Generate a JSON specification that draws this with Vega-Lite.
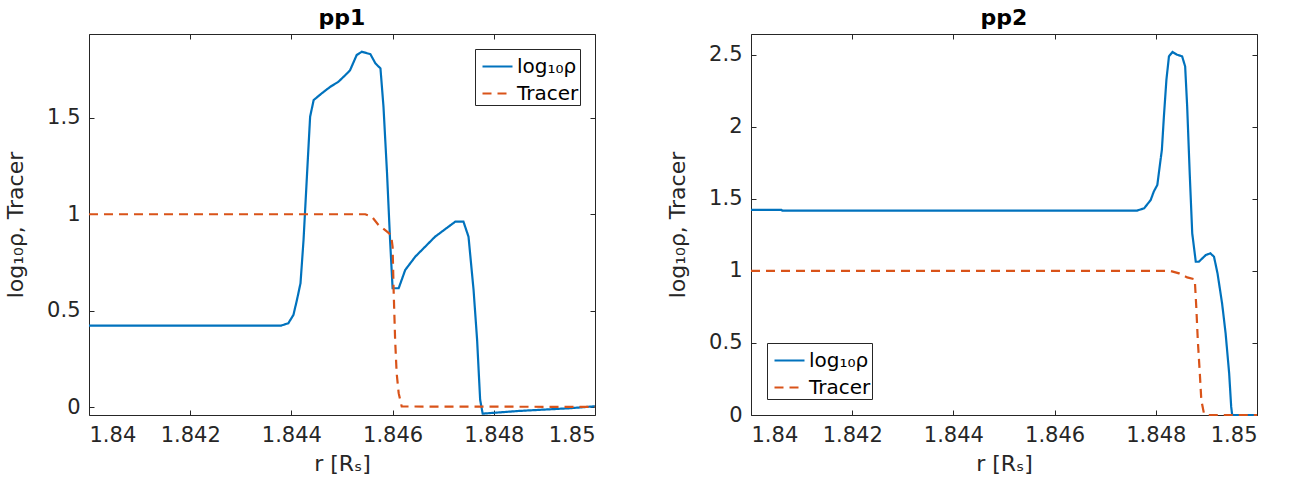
{
  "$schema": "https://vega.github.io/schema/vega-lite/v6.json",
  "autosize": {"type": "pad"},
  "padding": {"left": 4, "top": 6, "right": 5, "bottom": 5},
  "background": "white",
  "config": {
    "font": "DejaVu Sans",
    "view": {"stroke": "#262626", "strokeWidth": 1},
    "axis": {
      "domain": false, "grid": false, "tickColor": "#262626", "tickSize": -5,
      "labelFont": "DejaVu Sans", "labelFontSize": 21, "labelColor": "#262626", "labelPadding": 14,
      "titleFont": "DejaVu Sans", "titleFontSize": 22, "titleFontWeight": "normal", "titleColor": "#262626"
    },
    "axisX": {"titlePadding": 8},
    "axisY": {"titlePadding": 19},
    "legend": {
      "labelFont": "DejaVu Sans", "labelFontSize": 20, "labelColor": "#000000",
      "symbolType": "stroke", "symbolSize": 900, "symbolStrokeWidth": 2.2,
      "strokeColor": "#262626", "fillColor": "white", "padding": 1, "rowPadding": 0,
      "labelOffset": 3, "symbolOffset": 5
    },
    "title": {"font": "DejaVu Sans", "fontSize": 22, "fontWeight": "bold", "color": "#000000", "offset": 4},
    "line": {"strokeWidth": 2.2}
  },
  "datasets": {
    "pp1": [
      {"series": "log₁₀ρ", "r": 1.84, "v": 0.424},
      {"series": "log₁₀ρ", "r": 1.8438, "v": 0.424},
      {"series": "log₁₀ρ", "r": 1.84394, "v": 0.436},
      {"series": "log₁₀ρ", "r": 1.84404, "v": 0.479},
      {"series": "log₁₀ρ", "r": 1.84411, "v": 0.557},
      {"series": "log₁₀ρ", "r": 1.84418, "v": 0.643},
      {"series": "log₁₀ρ", "r": 1.84424, "v": 0.867},
      {"series": "log₁₀ρ", "r": 1.84431, "v": 1.212},
      {"series": "log₁₀ρ", "r": 1.84437, "v": 1.505},
      {"series": "log₁₀ρ", "r": 1.84444, "v": 1.591},
      {"series": "log₁₀ρ", "r": 1.8446, "v": 1.626},
      {"series": "log₁₀ρ", "r": 1.84477, "v": 1.66},
      {"series": "log₁₀ρ", "r": 1.84493, "v": 1.686},
      {"series": "log₁₀ρ", "r": 1.8451, "v": 1.729},
      {"series": "log₁₀ρ", "r": 1.84516, "v": 1.746},
      {"series": "log₁₀ρ", "r": 1.84529, "v": 1.824},
      {"series": "log₁₀ρ", "r": 1.84539, "v": 1.841},
      {"series": "log₁₀ρ", "r": 1.84556, "v": 1.829},
      {"series": "log₁₀ρ", "r": 1.84566, "v": 1.781},
      {"series": "log₁₀ρ", "r": 1.84576, "v": 1.755},
      {"series": "log₁₀ρ", "r": 1.84582, "v": 1.556},
      {"series": "log₁₀ρ", "r": 1.84589, "v": 1.212},
      {"series": "log₁₀ρ", "r": 1.84595, "v": 0.867},
      {"series": "log₁₀ρ", "r": 1.846, "v": 0.617},
      {"series": "log₁₀ρ", "r": 1.84612, "v": 0.617},
      {"series": "log₁₀ρ", "r": 1.84625, "v": 0.712},
      {"series": "log₁₀ρ", "r": 1.84645, "v": 0.781},
      {"series": "log₁₀ρ", "r": 1.84684, "v": 0.884},
      {"series": "log₁₀ρ", "r": 1.84724, "v": 0.962},
      {"series": "log₁₀ρ", "r": 1.8474, "v": 0.962},
      {"series": "log₁₀ρ", "r": 1.8475, "v": 0.884},
      {"series": "log₁₀ρ", "r": 1.8476, "v": 0.609},
      {"series": "log₁₀ρ", "r": 1.84767, "v": 0.35},
      {"series": "log₁₀ρ", "r": 1.84773, "v": 0.04},
      {"series": "log₁₀ρ", "r": 1.84778, "v": -0.032},
      {"series": "log₁₀ρ", "r": 1.8485, "v": -0.018},
      {"series": "log₁₀ρ", "r": 1.8495, "v": -0.004},
      {"series": "log₁₀ρ", "r": 1.85, "v": 0.006},
      {"series": "Tracer", "r": 1.84, "v": 1},
      {"series": "Tracer", "r": 1.84546, "v": 1},
      {"series": "Tracer", "r": 1.84559, "v": 0.988},
      {"series": "Tracer", "r": 1.84572, "v": 0.945},
      {"series": "Tracer", "r": 1.84589, "v": 0.91},
      {"series": "Tracer", "r": 1.84597, "v": 0.893},
      {"series": "Tracer", "r": 1.846, "v": 0.832},
      {"series": "Tracer", "r": 1.84602, "v": 0.609},
      {"series": "Tracer", "r": 1.84605, "v": 0.35},
      {"series": "Tracer", "r": 1.84608, "v": 0.178},
      {"series": "Tracer", "r": 1.84612, "v": 0.074},
      {"series": "Tracer", "r": 1.84618, "v": 0.005},
      {"series": "Tracer", "r": 1.85, "v": 0.003}
    ],
    "pp2": [
      {"series": "log₁₀ρ", "r": 1.84, "v": 1.424},
      {"series": "log₁₀ρ", "r": 1.8406, "v": 1.424},
      {"series": "log₁₀ρ", "r": 1.84062, "v": 1.419},
      {"series": "log₁₀ρ", "r": 1.84763, "v": 1.419},
      {"series": "log₁₀ρ", "r": 1.84777, "v": 1.435},
      {"series": "log₁₀ρ", "r": 1.8479, "v": 1.493},
      {"series": "log₁₀ρ", "r": 1.84796, "v": 1.551},
      {"series": "log₁₀ρ", "r": 1.84803, "v": 1.597},
      {"series": "log₁₀ρ", "r": 1.84806, "v": 1.679},
      {"series": "log₁₀ρ", "r": 1.84812, "v": 1.841},
      {"series": "log₁₀ρ", "r": 1.84816, "v": 2.072},
      {"series": "log₁₀ρ", "r": 1.84821, "v": 2.328},
      {"series": "log₁₀ρ", "r": 1.84826, "v": 2.49},
      {"series": "log₁₀ρ", "r": 1.84833, "v": 2.52},
      {"series": "log₁₀ρ", "r": 1.84842, "v": 2.501},
      {"series": "log₁₀ρ", "r": 1.84852, "v": 2.49},
      {"series": "log₁₀ρ", "r": 1.84858, "v": 2.42},
      {"series": "log₁₀ρ", "r": 1.84862, "v": 2.142},
      {"series": "log₁₀ρ", "r": 1.84867, "v": 1.679},
      {"series": "log₁₀ρ", "r": 1.84872, "v": 1.261},
      {"series": "log₁₀ρ", "r": 1.84879, "v": 1.064},
      {"series": "log₁₀ρ", "r": 1.84885, "v": 1.064},
      {"series": "log₁₀ρ", "r": 1.84899, "v": 1.111},
      {"series": "log₁₀ρ", "r": 1.84908, "v": 1.122},
      {"series": "log₁₀ρ", "r": 1.84915, "v": 1.099},
      {"series": "log₁₀ρ", "r": 1.84922, "v": 0.983},
      {"series": "log₁₀ρ", "r": 1.84931, "v": 0.775},
      {"series": "log₁₀ρ", "r": 1.84938, "v": 0.566},
      {"series": "log₁₀ρ", "r": 1.84945, "v": 0.288},
      {"series": "log₁₀ρ", "r": 1.84949, "v": 0.056},
      {"series": "log₁₀ρ", "r": 1.84951, "v": 0},
      {"series": "log₁₀ρ", "r": 1.85, "v": 0},
      {"series": "Tracer", "r": 1.84, "v": 1},
      {"series": "Tracer", "r": 1.84829, "v": 1},
      {"series": "Tracer", "r": 1.84846, "v": 0.983},
      {"series": "Tracer", "r": 1.84862, "v": 0.955},
      {"series": "Tracer", "r": 1.84877, "v": 0.942},
      {"series": "Tracer", "r": 1.8488, "v": 0.751},
      {"series": "Tracer", "r": 1.84883, "v": 0.519},
      {"series": "Tracer", "r": 1.84887, "v": 0.288},
      {"series": "Tracer", "r": 1.8489, "v": 0.102},
      {"series": "Tracer", "r": 1.84895, "v": 0.014},
      {"series": "Tracer", "r": 1.849, "v": 0},
      {"series": "Tracer", "r": 1.85, "v": 0}
    ]
  },
  "spacing": 156,
  "bounds": "flush",
  "resolve": {
    "scale": {"x": "independent", "y": "independent", "color": "independent", "strokeDash": "independent"},
    "legend": {"color": "independent", "strokeDash": "independent"}
  },
  "hconcat": [
    {
      "title": "pp1",
      "width": 506,
      "height": 381,
      "data": {"name": "pp1"},
      "resolve": {"axis": {"x": "independent", "y": "independent"}},
      "layer": [
        {
          "transform": [{"filter": "datum.series !== 'Tracer'"}],
          "mark": {"type": "line", "strokeWidth": 2.2},
          "encoding": {
            "x": {"field": "r", "type": "quantitative", "scale": {"domain": [1.84, 1.85], "nice": false, "zero": false},
                  "axis": {"orient": "bottom", "title": "r [Rₛ]", "values": [1.84, 1.842, 1.844, 1.846, 1.848, 1.85], "format": "~g"}},
            "y": {"field": "v", "type": "quantitative", "scale": {"domain": [-0.039, 1.933], "nice": false, "zero": false},
                  "axis": {"orient": "left", "title": "log₁₀ρ, Tracer", "values": [0, 0.5, 1, 1.5], "format": "~g"}},
            "color": {"field": "series", "type": "nominal", "scale": {"domain": ["log₁₀ρ", "Tracer"], "range": ["#0072BD", "#D95319"]},
                      "legend": {"title": null, "orient": "top-right", "offset": 15}},
            "strokeDash": {"field": "series", "type": "nominal", "scale": {"domain": ["log₁₀ρ", "Tracer"], "range": [[1, 0], [9, 6]]},
                      "legend": {"title": null, "orient": "top-right", "offset": 15}}
          }
        },
        {
          "transform": [{"filter": "datum.series === 'Tracer'"}],
          "mark": {"type": "line", "strokeWidth": 2.2},
          "encoding": {
            "x": {"field": "r", "type": "quantitative", "axis": {"orient": "top", "title": null, "labels": false, "values": [1.84, 1.842, 1.844, 1.846, 1.848, 1.85]}},
            "y": {"field": "v", "type": "quantitative", "axis": {"orient": "right", "title": null, "labels": false, "values": [0, 0.5, 1, 1.5]}},
            "color": {"field": "series", "type": "nominal"},
            "strokeDash": {"field": "series", "type": "nominal"}
          }
        }
      ]
    },
    {
      "title": "pp2",
      "width": 506,
      "height": 381,
      "data": {"name": "pp2"},
      "resolve": {"axis": {"x": "independent", "y": "independent"}},
      "layer": [
        {
          "transform": [{"filter": "datum.series !== 'Tracer'"}],
          "mark": {"type": "line", "strokeWidth": 2.2},
          "encoding": {
            "x": {"field": "r", "type": "quantitative", "scale": {"domain": [1.84, 1.85], "nice": false, "zero": false},
                  "axis": {"orient": "bottom", "title": "r [Rₛ]", "values": [1.84, 1.842, 1.844, 1.846, 1.848, 1.85], "format": "~g"}},
            "y": {"field": "v", "type": "quantitative", "scale": {"domain": [0, 2.645], "nice": false, "zero": false},
                  "axis": {"orient": "left", "title": "log₁₀ρ, Tracer", "values": [0, 0.5, 1, 1.5, 2, 2.5], "format": "~g"}},
            "color": {"field": "series", "type": "nominal", "scale": {"domain": ["log₁₀ρ", "Tracer"], "range": ["#0072BD", "#D95319"]},
                      "legend": {"title": null, "orient": "bottom-left", "offset": 16}},
            "strokeDash": {"field": "series", "type": "nominal", "scale": {"domain": ["log₁₀ρ", "Tracer"], "range": [[1, 0], [9, 6]]},
                      "legend": {"title": null, "orient": "bottom-left", "offset": 16}}
          }
        },
        {
          "transform": [{"filter": "datum.series === 'Tracer'"}],
          "mark": {"type": "line", "strokeWidth": 2.2},
          "encoding": {
            "x": {"field": "r", "type": "quantitative", "axis": {"orient": "top", "title": null, "labels": false, "values": [1.84, 1.842, 1.844, 1.846, 1.848, 1.85]}},
            "y": {"field": "v", "type": "quantitative", "axis": {"orient": "right", "title": null, "labels": false, "values": [0, 0.5, 1, 1.5, 2, 2.5]}},
            "color": {"field": "series", "type": "nominal"},
            "strokeDash": {"field": "series", "type": "nominal"}
          }
        }
      ]
    }
  ]
}
